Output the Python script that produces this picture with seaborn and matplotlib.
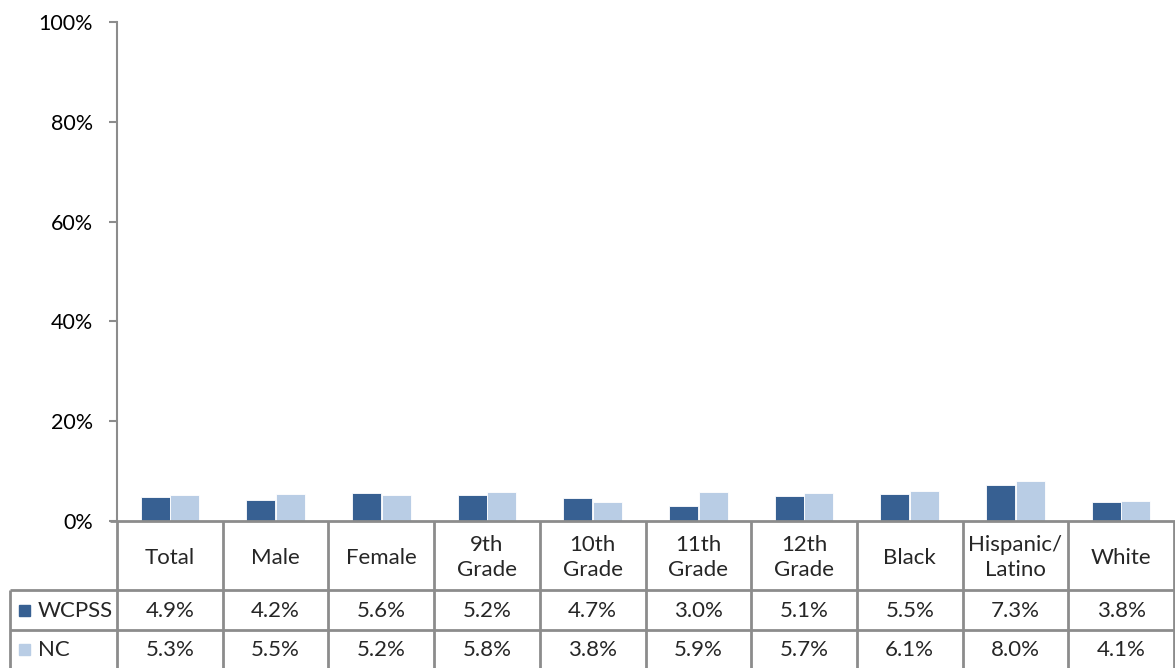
import numpy as np
import pandas as pd
import matplotlib
matplotlib.use("Agg")
import matplotlib.pyplot as plt
import seaborn as sns

categories = ["Total", "Male", "Female", "9th\nGrade", "10th\nGrade", "11th\nGrade",
              "12th\nGrade", "Black", "Hispanic/\nLatino", "White"]
wcpss = [4.9, 4.2, 5.6, 5.2, 4.7, 3.0, 5.1, 5.5, 7.3, 3.8]
nc = [5.3, 5.5, 5.2, 5.8, 3.8, 5.9, 5.7, 6.1, 8.0, 4.1]
series_names = ["WCPSS", "NC"]
colors = ["#376092", "#B9CDE5"]
yticks = [0, 20, 40, 60, 80, 100]

sns.set_style("white")
plt.rcParams["font.family"] = ["Lato", "DejaVu Sans"]

W, H = 1175, 668
fig = plt.figure(figsize=(W / 100, H / 100), dpi=100)

ax_l, ax_r, ax_t, ax_b = 117, 1174, 22, 521
ax = fig.add_axes([ax_l / W, 1 - ax_b / H, (ax_r - ax_l) / W, (ax_b - ax_t) / H])

df = pd.DataFrame({
    "cat": categories * 2,
    "val": wcpss + nc,
    "series": [series_names[0]] * len(categories) + [series_names[1]] * len(categories),
})
sns.barplot(data=df, x="cat", y="val", hue="series", palette=colors, ax=ax,
            width=0.56, gap=0.02, legend=False, saturation=1, edgecolor="white", linewidth=0.6)

fs = 16
ax.set_xlim(-0.5, len(categories) - 0.5)
ax.set_ylim(0, 100)
ax.set_yticks(yticks)
ax.set_yticklabels([f"{t}%" for t in yticks])
ax.set_xticks([])
ax.set_xlabel("")
ax.set_ylabel("")
gray = "#8C8C8C"
for s in ["top", "right"]:
    ax.spines[s].set_visible(False)
ax.spines["left"].set_color(gray)
ax.spines["left"].set_linewidth(1.5)
ax.spines["bottom"].set_visible(False)
ax.tick_params(axis="y", left=True, direction="out", length=5.5, width=1.5, color=gray,
               pad=12, labelsize=15.5, labelcolor="black")

# data table overlay in pixel coordinates
ov = fig.add_axes([0, 0, 1, 1])
ov.set_xlim(0, W)
ov.set_ylim(H, 0)
ov.axis("off")
ov.patch.set_alpha(0)

n = len(categories)
colw = (ax_r - ax_l) / n
y_hdr_bot, y_r1_bot, y_r2_bot = 590, 630, 668
lw = 2
ov.plot([110, W], [ax_b, ax_b], color=gray, lw=lw, solid_capstyle="butt")
ov.plot([10, W], [y_hdr_bot, y_hdr_bot], color=gray, lw=lw, solid_capstyle="butt")
ov.plot([10, W], [y_r1_bot, y_r1_bot], color=gray, lw=lw, solid_capstyle="butt")
ov.plot([10, 10], [y_hdr_bot, H], color=gray, lw=lw, solid_capstyle="butt")
for k in range(n + 1):
    x = ax_l + k * colw
    ov.plot([x, x], [ax_b, H], color=gray, lw=lw, solid_capstyle="butt")

for k, c in enumerate(categories):
    cx = ax_l + (k + 0.5) * colw
    ov.text(cx, (ax_b + y_hdr_bot) / 2 + 2, c, ha="center", va="center", fontsize=fs,
            linespacing=1.3)
    ov.text(cx, (y_hdr_bot + y_r1_bot) / 2 + 1, f"{wcpss[k]:.1f}%", ha="center", va="center", fontsize=fs)
    ov.text(cx, (y_r1_bot + y_r2_bot) / 2 + 1, f"{nc[k]:.1f}%", ha="center", va="center", fontsize=fs)

for i, (name, col) in enumerate(zip(series_names, colors)):
    yc = (y_hdr_bot + y_r1_bot) / 2 if i == 0 else (y_r1_bot + y_r2_bot) / 2
    ov.add_patch(plt.Rectangle((19, yc - 5), 11, 11, color=col))
    ov.text(38, yc + 1, name, ha="left", va="center", fontsize=fs)

fig.savefig("out.png", dpi=100)
